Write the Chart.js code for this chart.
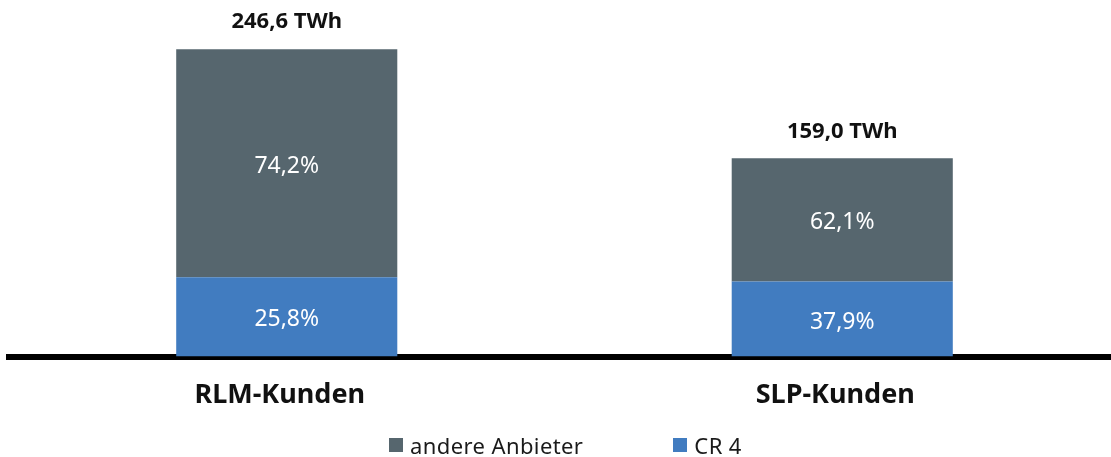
<!DOCTYPE html>
<html>
<head>
<meta charset="utf-8">
<script src="https://cdn.jsdelivr.net/npm/chart.js@4"></script>
<style>
  html, body { margin: 0; padding: 0; background: #fff; overflow: hidden; }
  #wrap { position: relative; width: 1130px; height: 457px; }
  #myChart { display: block; }
  #legend { position: absolute; top: 430px; left: 389px; display: flex; align-items: center;
            font-family: "Noto Sans", sans-serif; font-size: 22px; color: #1a1a1a; letter-spacing: 0.4px; }
  #legend .item { display: flex; align-items: center; margin-right: 90px; }
  #legend .box { width: 14px; height: 14px; margin-right: 7px; }
</style>
</head>
<body>
<div id="wrap">
  <canvas id="myChart" width="1130" height="457"></canvas>
  <div id="legend"></div>
</div>
<script>
// categories and values (TWh)
var categories = ['RLM-Kunden', 'SLP-Kunden'];
var cr4Values = [63.6, 60.3];
var otherValues = [183.0, 98.7];
var cr4Shares = ['25,8%', '37,9%'];
var otherShares = ['74,2%', '62,1%'];
var totalLabels = ['246,6 TWh', '159,0 TWh'];

var grey = '#56666e';
var blue = '#417cc0';

// writes the percent inside each segment and the total above each bar
var labelPlugin = {
    id: 'barLabels',
    afterDatasetsDraw: function(chart) {
        var ctx = chart.ctx;
        var shares = [cr4Shares, otherShares];
        ctx.save();
        ctx.textAlign = 'center';
        ctx.textBaseline = 'middle';
        chart.data.datasets.forEach(function(ds, d) {
            var meta = chart.getDatasetMeta(d);
            meta.data.forEach(function(bar, i) {
                ctx.fillStyle = '#fff';
                ctx.font = '23px "Noto Sans"';
                ctx.fillText(shares[d][i], bar.x, (bar.y + bar.base) / 2 + 3);
            });
        });
        var top = chart.getDatasetMeta(1);
        top.data.forEach(function(bar, i) {
            ctx.fillStyle = '#111';
            ctx.font = 'bold 22px "Noto Sans"';
            ctx.fillText(totalLabels[i], bar.x, bar.y - 27);
        });
        ctx.restore();
    }
};

var ctx = document.getElementById('myChart').getContext('2d');
var chart = new Chart(ctx, {
    type: 'bar',
    data: {
        labels: categories,
        datasets: [{
            label: 'CR 4',
            backgroundColor: blue,
            data: cr4Values
        }, {
            label: 'andere Anbieter',
            backgroundColor: grey,
            data: otherValues
        }]
    },
    options: {
        responsive: false,
        animation: false,
        devicePixelRatio: 1,
        layout: { padding: { left: 9, right: 10, top: 0, bottom: 22 } },
        datasets: { bar: { barPercentage: 0.398, categoryPercentage: 1 } },
        plugins: {
            legend: { display: false },
            tooltip: { enabled: false }
        },
        scales: {
            x: {
                stacked: true,
                grid: { display: false, drawTicks: false },
                border: { display: true, color: '#000', width: 6 },
                ticks: {
                    color: '#111',
                    padding: 23,
                    labelOffset: -7,
                    font: { family: 'Noto Sans', size: 27, weight: 'bold' }
                }
            },
            y: {
                stacked: true,
                display: false,
                min: 0,
                max: 286
            }
        }
    },
    plugins: [labelPlugin]
});

// legend in the reference order: grey first, then blue
var legend = document.getElementById('legend');
[1, 0].forEach(function(d) {
    var ds = chart.data.datasets[d];
    var item = document.createElement('div');
    item.className = 'item';
    var box = document.createElement('span');
    box.className = 'box';
    box.style.background = ds.backgroundColor;
    var txt = document.createElement('span');
    txt.textContent = ds.label;
    item.appendChild(box);
    item.appendChild(txt);
    legend.appendChild(item);
});
</script>
</body>
</html>
